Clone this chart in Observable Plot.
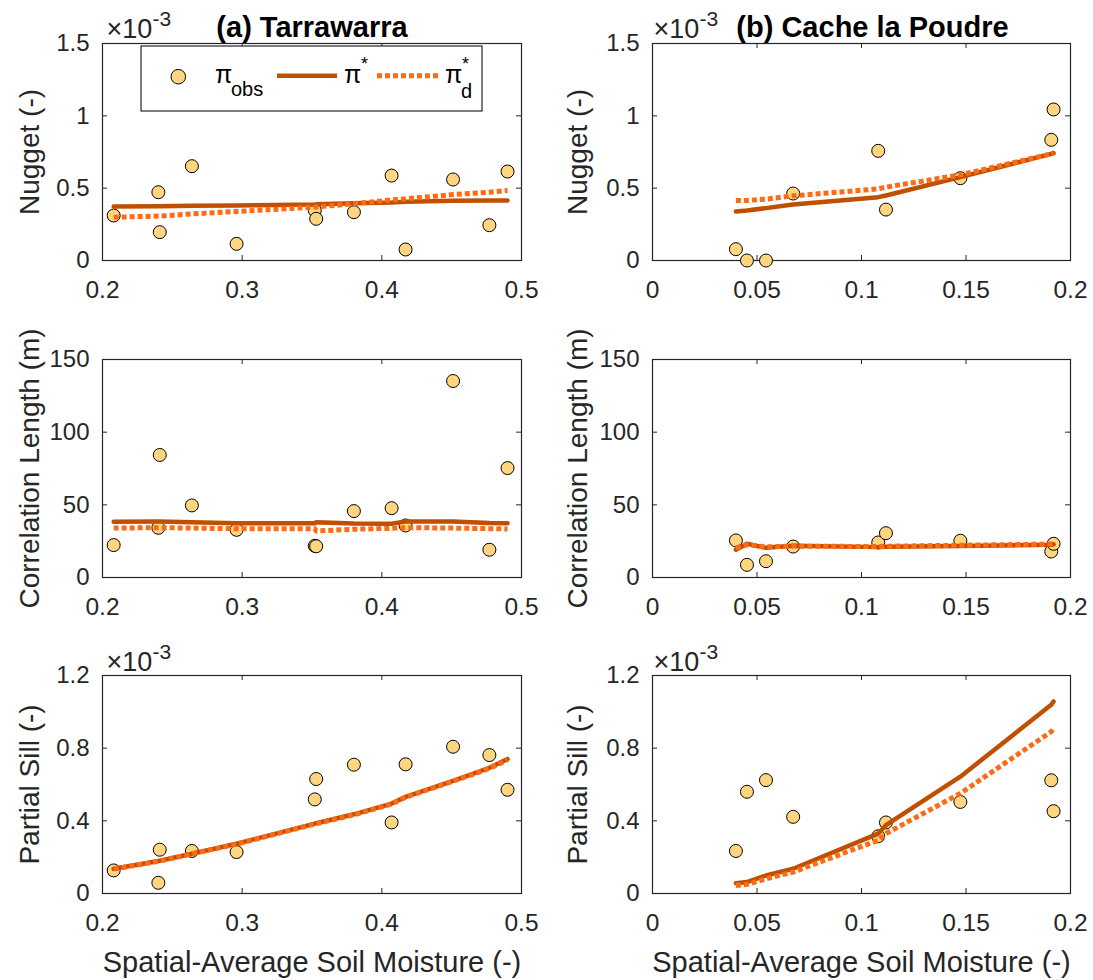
<!DOCTYPE html>
<html>
<head>
<meta charset="utf-8">
<script src="https://cdn.jsdelivr.net/npm/d3@7"></script>
<script src="https://cdn.jsdelivr.net/npm/@observablehq/plot@0.6"></script>
<style>
  body { margin: 0; background: #fff; }
  #chart { position: relative; width: 1093px; height: 980px; font-family: "Liberation Sans", Arial, sans-serif; }
  #chart svg { position: absolute; overflow: visible; }
</style>
</head>
<body>
<div id="chart"></div>
<script>
// ---------------- DATA ----------------
// Tarrawarra (nugget & partial sill in units of 1e-3)
const tarX            = [0.208, 0.240, 0.241, 0.264, 0.296, 0.352, 0.353, 0.380, 0.407, 0.417, 0.451, 0.477, 0.490];
const tarNuggetObs    = [0.311, 0.472, 0.196, 0.652, 0.115, 0.346, 0.288, 0.334, 0.587, 0.076, 0.560, 0.244, 0.615];
const tarNuggetStar   = [0.373, 0.375, 0.375, 0.378, 0.380, 0.387, 0.388, 0.396, 0.401, 0.406, 0.413, 0.415, 0.415];
const tarNuggetStarD  = [0.299, 0.307, 0.307, 0.322, 0.339, 0.369, 0.370, 0.392, 0.419, 0.426, 0.456, 0.472, 0.484];
const tarCorrObs      = [22.3, 34.2, 84.3, 49.6, 32.8, 21.8, 21.5, 45.7, 47.7, 35.8, 135.2, 19.1, 75.3];
const tarCorrStar     = [38.3, 38.6, 38.6, 38.0, 37.3, 37.3, 38.1, 37.2, 37.0, 38.6, 38.6, 37.5, 37.3];
const tarCorrStarD    = [34.0, 34.3, 34.3, 34.0, 33.6, 33.6, 32.0, 33.2, 33.8, 34.3, 34.0, 33.6, 33.4];
const tarSillObs      = [0.127, 0.059, 0.241, 0.234, 0.228, 0.518, 0.630, 0.709, 0.391, 0.711, 0.808, 0.762, 0.571];
const tarSillStar     = [0.136, 0.179, 0.180, 0.219, 0.274, 0.385, 0.387, 0.436, 0.495, 0.532, 0.620, 0.692, 0.740];
const tarSillStarD    = [0.134, 0.177, 0.178, 0.218, 0.272, 0.382, 0.384, 0.433, 0.492, 0.530, 0.618, 0.688, 0.735];

// Cache la Poudre
const cacX            = [0.0399, 0.0452, 0.0543, 0.0673, 0.1080, 0.1117, 0.1473, 0.1908, 0.1919];
const cacNuggetObs    = [0.078, 0.000, 0.000, 0.463, 0.758, 0.352, 0.569, 0.834, 1.044];
const cacNuggetStar   = [0.339, 0.346, 0.362, 0.387, 0.438, 0.449, 0.576, 0.737, 0.742];
const cacNuggetStarD  = [0.415, 0.415, 0.424, 0.447, 0.495, 0.507, 0.592, 0.737, 0.745];
const cacCorrObs      = [25.5, 8.7, 11.2, 21.3, 24.1, 30.5, 25.3, 17.9, 23.2];
const cacCorrStar     = [19.1, 23.2, 20.4, 21.8, 20.9, 21.1, 21.6, 22.5, 22.9];
const cacCorrStarD    = [20.4, 22.5, 21.1, 21.6, 21.3, 21.5, 22.2, 23.0, 23.4];
const cacSillObs      = [0.234, 0.560, 0.624, 0.422, 0.315, 0.391, 0.504, 0.623, 0.453];
const cacSillStar     = [0.057, 0.063, 0.099, 0.136, 0.330, 0.376, 0.643, 1.039, 1.057];
const cacSillStarD    = [0.044, 0.050, 0.081, 0.118, 0.293, 0.330, 0.551, 0.891, 0.910];

// Tick labels
const tarXTicks   = [0.2, 0.3, 0.4, 0.5];
const cacXTicks   = [0, 0.05, 0.1, 0.15, 0.2];
const nuggetTicks = [0, 0.5, 1, 1.5];
const corrTicks   = [0, 50, 100, 150];
const sillTicks   = [0, 0.4, 0.8, 1.2];

// Text
const titles   = ["(a) Tarrawarra", "(b) Cache la Poudre"];
const yLabels  = ["Nugget (-)", "Correlation Length (m)", "Partial Sill (-)"];
const xLabel   = "Spatial-Average Soil Moisture (-)";
const expBase  = "\u00d710";
const expPow   = "-3";

// ---------------- STYLE ----------------
const FONT = "Liberation Sans, Arial, Helvetica, sans-serif";
const AX = "#262626";
const TXT = "#262626";
const FILL = "#FFD580";
const SOLID = "#C04F00";
const DOTC = "#FF6A14";

const cols = [
  {left: 0,   width: 546, ml: 102, mr: 25, xDomain: [0.2, 0.5], xTicks: tarXTicks, x: tarX, yLabelOffset: 83, titleDx: 0},
  {left: 546, width: 547, ml: 106, mr: 23, xDomain: [0, 0.2],   xTicks: cacXTicks, x: cacX, yLabelOffset: 85, titleDx: 11}
];
const rows = [
  {top: 0,   height: 310, mt: 43, mb: 50, yDomain: [0, 1.5], yTicks: nuggetTicks, exp: true,  expDy: -6},
  {top: 310, height: 320, mt: 49, mb: 53, yDomain: [0, 150], yTicks: corrTicks,   exp: false},
  {top: 630, height: 350, mt: 45, mb: 87, yDomain: [0, 1.2], yTicks: sillTicks,   exp: true,  expDy: -5}
];
const series = [
  [ {obs: tarNuggetObs, star: tarNuggetStar, starD: tarNuggetStarD},
    {obs: tarCorrObs,   star: tarCorrStar,   starD: tarCorrStarD},
    {obs: tarSillObs,   star: tarSillStar,   starD: tarSillStarD} ],
  [ {obs: cacNuggetObs, star: cacNuggetStar, starD: cacNuggetStarD},
    {obs: cacCorrObs,   star: cacCorrStar,   starD: cacCorrStarD},
    {obs: cacSillObs,   star: cacSillStar,   starD: cacSillStarD} ]
];

const chart = document.getElementById("chart");

cols.forEach((c, ci) => {
  rows.forEach((r, ri) => {
    const s = series[ci][ri];
    const W = c.width - c.ml - c.mr;
    const H = r.height - r.mt - r.mb;
    const idx = d3.range(c.x.length);
    const fmt = d => String(d);
    const marks = [
      Plot.frame({stroke: AX, strokeWidth: 1.2}),
      Plot.tickX(c.xTicks, {x: d => d, insetTop: H - 5, stroke: AX, strokeWidth: 1}),
      Plot.tickX(c.xTicks, {x: d => d, insetBottom: H - 5, stroke: AX, strokeWidth: 1}),
      Plot.tickY(r.yTicks, {y: d => d, insetRight: W - 5, stroke: AX, strokeWidth: 1}),
      Plot.tickY(r.yTicks, {y: d => d, insetLeft: W - 5, stroke: AX, strokeWidth: 1}),
      Plot.axisX(c.xTicks, {tickSize: 0, tickPadding: 20, fontSize: 24.5, tickFormat: fmt, label: null, fill: TXT}),
      Plot.axisY(r.yTicks, {tickSize: 0, tickPadding: 13, fontSize: 24, tickFormat: fmt, label: null, fill: TXT}),
      Plot.text([yLabels[ri]], {text: d => d, frameAnchor: "left", dx: -c.yLabelOffset, rotate: -90,
        textAnchor: "middle", lineAnchor: "top", fontSize: 28, fill: TXT}),
      Plot.dot(idx, {x: i => c.x[i], y: i => s.obs[i], r: 6.5, fill: FILL, stroke: "#000", strokeWidth: 1}),
      Plot.line(idx, {x: i => c.x[i], y: i => s.star[i], stroke: SOLID, strokeWidth: 4.5}),
      Plot.line(idx, {x: i => c.x[i], y: i => s.starD[i], stroke: DOTC, strokeWidth: 5,
        strokeDasharray: "5,3", strokeLinecap: "butt"})
    ];
    if (ri === 0) {
      marks.push(Plot.text([titles[ci]], {text: d => d, frameAnchor: "top", dx: c.titleDx, dy: -7,
        lineAnchor: "bottom", textAnchor: "middle", fontSize: 29, fontWeight: "bold", fill: "#000"}));
    }
    if (r.exp) {
      const dx0 = ci === 0 ? 4 : 1;
      marks.push(Plot.text([expBase], {text: d => d, frameAnchor: "top-left", dx: dx0, dy: r.expDy,
        textAnchor: "start", lineAnchor: "bottom", fontSize: 27, fill: TXT}));
      marks.push(Plot.text([expPow], {text: d => d, frameAnchor: "top-left", dx: dx0 + 46, dy: r.expDy - 12,
        textAnchor: "start", lineAnchor: "bottom", fontSize: 21, fill: TXT}));
    }
    if (ri === 2) {
      marks.push(Plot.text([xLabel], {text: d => d, frameAnchor: "bottom", dy: 58,
        lineAnchor: "top", textAnchor: "middle", fontSize: 29, fill: TXT}));
    }
    const svg = Plot.plot({
      width: c.width, height: r.height,
      marginLeft: c.ml, marginRight: c.mr, marginTop: r.mt, marginBottom: r.mb,
      x: {domain: c.xDomain},
      y: {domain: r.yDomain},
      style: {fontFamily: FONT, background: "transparent", color: TXT, overflow: "visible"},
      marks
    });
    svg.style.left = c.left + "px";
    svg.style.top = r.top + "px";
    chart.appendChild(svg);
  });
});

// ---------------- LEGEND (top-left panel) ----------------
const lg = d3.select(chart).append("svg")
  .attr("width", 1093).attr("height", 980)
  .style("left", "0px").style("top", "0px")
  .style("pointer-events", "none")
  .attr("font-family", FONT);
lg.append("rect").attr("x", 141).attr("y", 46).attr("width", 341).attr("height", 65)
  .attr("fill", "#fff").attr("stroke", AX).attr("stroke-width", 1.2);
lg.append("circle").attr("cx", 178.3).attr("cy", 76.7).attr("r", 7.3)
  .attr("fill", FILL).attr("stroke", "#000").attr("stroke-width", 1);
const lt = (x, y, s, size) => lg.append("text").attr("x", x).attr("y", y).attr("font-size", size).attr("fill", "#000").text(s);
lt(215, 83.3, "\u03c0", 25);
lt(231, 95.5, "obs", 20);
lg.append("line").attr("x1", 277).attr("x2", 337).attr("y1", 75.7).attr("y2", 75.7)
  .attr("stroke", SOLID).attr("stroke-width", 4.5);
lt(344, 83.3, "\u03c0", 25);
lt(361, 70, "*", 18);
lg.append("line").attr("x1", 377).attr("x2", 438).attr("y1", 75.7).attr("y2", 75.7)
  .attr("stroke", DOTC).attr("stroke-width", 5).attr("stroke-dasharray", "5,3");
lt(445, 83.3, "\u03c0", 25);
lt(462, 70, "*", 18);
lt(461, 97.5, "d", 20);
</script>
</body>
</html>
